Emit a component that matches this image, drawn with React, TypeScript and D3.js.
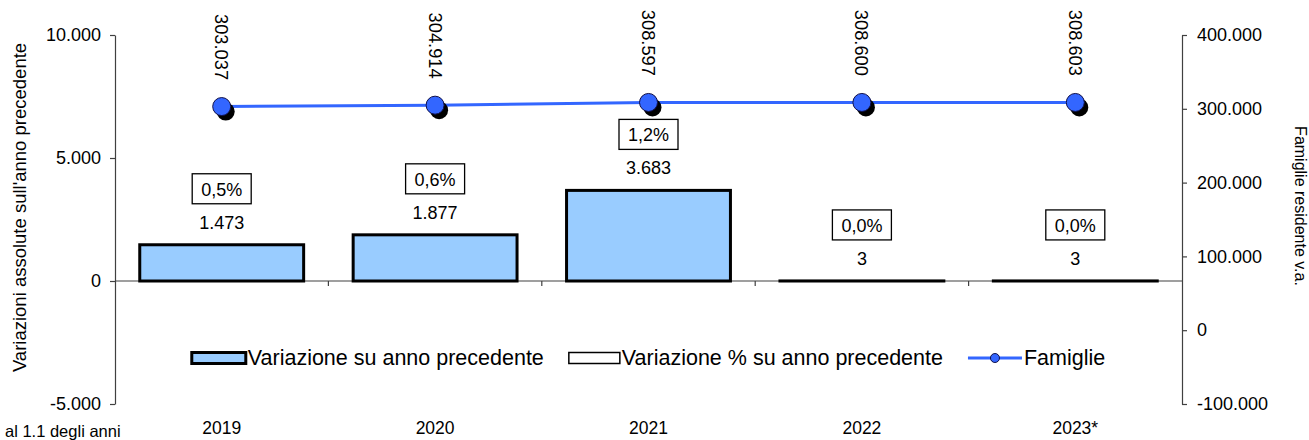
import { useEffect, useRef } from 'react'
import * as d3 from 'd3'

const YEARS = ['2019', '2020', '2021', '2022', '2023*']
const VARIAZIONE = [1473, 1877, 3683, 3, 3]
const VARIAZIONE_PCT = [0.5, 0.6, 1.2, 0.0, 0.0]
const FAMIGLIE = [303037, 304914, 308597, 308600, 308603]
const LEFT_TICKS = [-5000, 0, 5000, 10000]
const RIGHT_TICKS = [-100000, 0, 100000, 200000, 300000, 400000]

const W = 1309
const H = 440
const FONT = '"Liberation Sans", Arial, sans-serif'
const BAR_FILL = '#99ccff'
const LINE_BLUE = '#3366ff'
const AXIS = '#404040'

const it = d3.formatLocale({ decimal: ',', thousands: '.', grouping: [3], currency: ['€', ''], minus: '-' })
const fmtN = it.format(',d')
const fmtPct = (v: number) => it.format('.1f')(v) + '%'

export default function App() {
  const svgRef = useRef<SVGSVGElement>(null)

  useEffect(() => {
    const svg = d3.select(svgRef.current)
    svg.selectAll('*').remove()

    const left = 115, right = 1182, top = 35, bottom = 404

    const x = d3.scaleBand<string>().domain(YEARS).range([left, right]).padding(0)
    const yL = d3.scaleLinear().domain([-5000, 10000]).range([bottom, top])
    const yR = d3.scaleLinear().domain([-100000, 400000]).range([bottom, top])
    const cx = (c: string) => (x(c) ?? 0) + x.bandwidth() / 2
    const barW = x.bandwidth() * 0.768

    // ── axes ────────────────────────────────────────────────
    const axL = svg.append('g').attr('transform', `translate(${left},0)`)
      .call(d3.axisLeft(yL).tickValues(LEFT_TICKS).tickSize(5).tickSizeOuter(0).tickPadding(9).tickFormat(d => fmtN(+d)))
    const axR = svg.append('g').attr('transform', `translate(${right},0)`)
      .call(d3.axisRight(yR).tickValues(RIGHT_TICKS).tickSize(5).tickSizeOuter(0).tickPadding(10).tickFormat(d => fmtN(+d)))
    for (const ax of [axL, axR]) {
      ax.attr('font-family', FONT).attr('font-size', 18)
      ax.selectAll('path,line').attr('stroke', AXIS).attr('stroke-width', 1.2)
      ax.selectAll('text').attr('fill', '#000')
    }

    // x axis on zero line, ticks between categories
    const y0 = yL(0)
    svg.append('line').attr('x1', left).attr('x2', right).attr('y1', y0).attr('y2', y0)
      .attr('stroke', AXIS).attr('stroke-width', 1.2)
    svg.append('g').selectAll('line').data(YEARS.slice(1)).join('line')
      .attr('x1', d => x(d) ?? 0).attr('x2', d => x(d) ?? 0)
      .attr('y1', y0).attr('y2', y0 + 5)
      .attr('stroke', AXIS).attr('stroke-width', 1.2)

    svg.append('g').selectAll('text').data(YEARS).join('text')
      .attr('x', cx).attr('y', 428).attr('text-anchor', 'middle').attr('dominant-baseline', 'central')
      .attr('font-family', FONT).attr('font-size', 17.5).text(d => d)

    // axis titles
    svg.append('text')
      .attr('transform', `translate(19,${(top + bottom) / 2 - 12}) rotate(-90)`)
      .attr('text-anchor', 'middle').attr('dominant-baseline', 'central')
      .attr('font-family', FONT).attr('font-size', 18.5)
      .text("Variazioni assolute sull'anno precedente")
    svg.append('text')
      .attr('transform', `translate(1300,206) rotate(90)`)
      .attr('text-anchor', 'middle').attr('dominant-baseline', 'central')
      .attr('font-family', FONT).attr('font-size', 16)
      .text('Famiglie residente v.a.')
    svg.append('text').attr('x', 5).attr('y', 431).attr('dominant-baseline', 'central')
      .attr('font-family', FONT).attr('font-size', 16.5).text('al 1.1 degli anni')

    // ── bars ────────────────────────────────────────────────
    const bars = YEARS.map((c, i) => ({ c, v: VARIAZIONE[i], p: VARIAZIONE_PCT[i] }))
    svg.append('g').selectAll('rect').data(bars).join('rect')
      .attr('x', d => cx(d.c) - barW / 2)
      .attr('width', barW)
      .attr('y', d => yL(Math.max(0, d.v)))
      .attr('height', d => Math.abs(yL(d.v) - y0))
      .attr('fill', BAR_FILL).attr('stroke', '#000').attr('stroke-width', 3)

    // value labels + % boxes
    const lab = svg.append('g').attr('font-family', FONT)
    bars.forEach(d => {
      const ly = yL(Math.max(0, d.v)) - 22
      lab.append('text').attr('x', cx(d.c)).attr('y', ly)
        .attr('text-anchor', 'middle').attr('dominant-baseline', 'central')
        .attr('font-size', 18).text(fmtN(d.v))
      const by = ly - 34
      lab.append('rect').attr('x', cx(d.c) - 29.5).attr('y', by - 15).attr('width', 59).attr('height', 30)
        .attr('fill', '#fff').attr('stroke', '#000').attr('stroke-width', 1.3)
      lab.append('text').attr('x', cx(d.c)).attr('y', by + 1)
        .attr('text-anchor', 'middle').attr('dominant-baseline', 'central')
        .attr('font-size', 18).text(fmtPct(d.p))
    })

    // ── line: Famiglie ──────────────────────────────────────
    const pts = YEARS.map((c, i) => ({ c, v: FAMIGLIE[i] }))
    const line = d3.line<{ c: string; v: number }>().x(d => cx(d.c)).y(d => yR(d.v))
    svg.append('path').datum(pts).attr('d', line)
      .attr('fill', 'none').attr('stroke', LINE_BLUE).attr('stroke-width', 3)
    svg.append('g').selectAll('circle').data(pts).join('circle')
      .attr('cx', d => cx(d.c) + 4).attr('cy', d => yR(d.v) + 5).attr('r', 9).attr('fill', '#000')
    svg.append('g').selectAll('circle').data(pts).join('circle')
      .attr('cx', d => cx(d.c)).attr('cy', d => yR(d.v)).attr('r', 9)
      .attr('fill', LINE_BLUE).attr('stroke', '#10104a').attr('stroke-width', 1)
    svg.append('g').selectAll('text').data(pts).join('text')
      .attr('transform', d => `translate(${cx(d.c)},${yR(d.v) - 26.5}) rotate(90)`)
      .attr('text-anchor', 'end').attr('dominant-baseline', 'central')
      .attr('font-family', FONT).attr('font-size', 18.3).text(d => fmtN(d.v))

    // ── legend ──────────────────────────────────────────────
    const lg = svg.append('g').attr('font-family', FONT).attr('font-size', 21.5)
    const ly = 358
    const items = [
      { label: 'Variazione su anno precedente', kind: 'bar' },
      { label: 'Variazione % su anno precedente', kind: 'box' },
      { label: 'Famiglie', kind: 'line' },
    ]
    let cur = 0
    items.forEach(item => {
      const g = lg.append('g').attr('transform', `translate(${cur},0)`)
      const sw = item.kind === 'box' ? 51 : 54
      if (item.kind === 'bar') {
        g.append('rect').attr('x', 0).attr('y', ly - 5.5).attr('width', sw).attr('height', 11)
          .attr('fill', BAR_FILL).attr('stroke', '#000').attr('stroke-width', 3)
      } else if (item.kind === 'box') {
        g.append('rect').attr('x', 0).attr('y', ly - 5.5).attr('width', sw).attr('height', 11)
          .attr('fill', '#fff').attr('stroke', '#000').attr('stroke-width', 1.5)
      } else {
        g.append('line').attr('x1', 0).attr('x2', sw).attr('y1', ly).attr('y2', ly)
          .attr('stroke', LINE_BLUE).attr('stroke-width', 3)
        g.append('circle').attr('cx', sw / 2).attr('cy', ly).attr('r', 4.5)
          .attr('fill', LINE_BLUE).attr('stroke', '#10104a').attr('stroke-width', 1)
      }
      const t = g.append('text').attr('x', sw + 2).attr('y', ly).attr('dominant-baseline', 'central').text(item.label)
      const tw = (t.node() as SVGTextElement).getComputedTextLength()
      cur += sw + 2 + tw + 25
    })
    const total = cur - 25
    lg.attr('transform', `translate(${(left + right) / 2 - total / 2},0)`)
  }, [])

  return (
    <div style={{ position: 'fixed', left: 0, top: 0 }}>
      <svg ref={svgRef} width={W} height={H} style={{ display: 'block', background: '#fff' }} />
    </div>
  )
}
